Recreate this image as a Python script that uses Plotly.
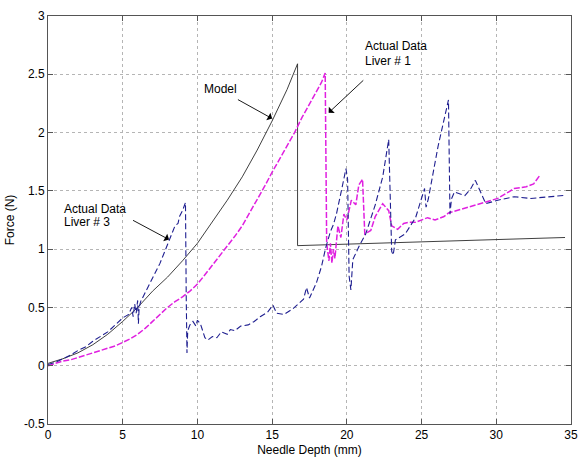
import plotly.graph_objects as go

# Model curve (black)
model_x = [0, 1, 2, 3, 4, 5, 6, 7, 8, 9, 10, 11, 12, 13, 14, 15, 16, 16.7, 16.7, 34.6]
model_y = [0.02, 0.06, 0.11, 0.18, 0.27, 0.38, 0.50, 0.64, 0.76, 0.90, 1.05, 1.23, 1.42, 1.62,
           1.85, 2.10, 2.37, 2.59, 1.03, 1.10]

# Actual Data Liver # 3 (blue)
liver3_x = [0, 0.5, 1, 1.5, 2, 2.5, 3, 3.5, 4, 4.5, 5, 5.4, 5.6, 5.7, 5.8, 5.9, 6.0, 6.05, 6.1,
            6.2, 6.4, 6.6, 7.0, 7.5, 8.0, 8.5, 8.7, 8.8, 9.0, 9.2, 9.25, 9.3, 9.35, 9.5, 9.7,
            9.9, 10.0, 10.2, 10.5, 10.7, 11.0, 11.3, 11.6, 12.0, 12.2, 12.5, 12.9, 13.4, 13.8,
            14.2, 14.7, 15.05, 15.3, 15.8, 16.4, 17.1, 17.3, 17.5, 17.96, 18.3, 18.6, 18.9,
            19.1, 19.3, 19.6, 19.94, 20.05, 20.15, 20.27, 20.4, 20.8, 21.26, 21.9, 22.4, 22.8,
            23.0, 23.1, 23.25, 23.9, 24.6, 25.2, 25.3, 25.45, 26.1, 26.8, 26.9, 27.0, 27.2,
            27.9, 28.3, 28.6, 29.3, 30.1, 31.2, 32.3, 33.4, 34.5]
liver3_y = [0.01, 0.03, 0.06, 0.09, 0.13, 0.16, 0.21, 0.25, 0.29, 0.35, 0.41, 0.44, 0.50, 0.42,
            0.53, 0.45, 0.56, 0.36, 0.50, 0.55, 0.60, 0.65, 0.75, 0.88, 1.04, 1.20, 1.22, 1.28,
            1.33, 1.40, 0.60, 0.11, 0.30, 0.35, 0.38, 0.34, 0.39, 0.36, 0.24, 0.22, 0.25, 0.24,
            0.29, 0.27, 0.31, 0.30, 0.34, 0.35, 0.38, 0.42, 0.46, 0.52, 0.45, 0.44, 0.49, 0.57,
            0.67, 0.58, 0.71, 0.85, 1.02, 1.15, 1.21, 1.30, 1.48, 1.69, 1.60, 0.77, 0.65, 0.91,
            1.02, 1.13, 1.38, 1.62, 1.94, 0.98, 0.95, 1.08, 1.13, 1.27, 1.52, 1.36, 1.43, 1.88,
            2.28, 1.30, 1.43, 1.49, 1.46, 1.52, 1.59, 1.39, 1.42, 1.45, 1.435, 1.45, 1.46]

# Actual Data Liver # 1 (magenta)
liver1_x = [0, 0.5, 1, 1.5, 2, 2.5, 3, 3.5, 4, 4.5, 5, 5.5, 6, 6.5, 7, 7.5, 8, 8.5, 9, 9.5, 10,
            10.5, 11, 11.5, 12, 12.5, 13, 13.5, 14, 14.5, 15, 15.5, 16, 16.5, 17, 17.5, 18, 18.3,
            18.55, 18.6, 18.65, 18.8, 18.9, 19.0, 19.1, 19.2, 19.4, 19.6, 19.8, 20.0, 20.3, 20.6,
            20.8, 21.05, 21.2, 21.6, 21.9, 22.4, 22.8, 23.0, 23.4, 23.8, 24.1, 24.6, 25.4, 25.9,
            26.5, 26.8, 27.9, 29.0, 30.1, 31.2, 32.0, 32.5, 32.9]
liver1_y = [0.0, 0.02, 0.04, 0.05, 0.07, 0.09, 0.11, 0.13, 0.15, 0.17, 0.20, 0.23, 0.27, 0.32,
            0.38, 0.44, 0.50, 0.55, 0.59, 0.64, 0.70, 0.78, 0.86, 0.95, 1.03, 1.11, 1.20, 1.31,
            1.42, 1.54, 1.66, 1.77, 1.88, 2.00, 2.13, 2.25, 2.37, 2.43, 2.51, 1.6, 1.05, 0.90,
            1.05, 0.88, 1.00, 0.92, 1.20, 1.10, 1.30, 1.25, 1.42, 1.38, 1.55, 1.60, 1.13, 1.16,
            1.28, 1.39, 1.33, 1.20, 1.17, 1.22, 1.23, 1.23, 1.27, 1.25, 1.28, 1.31, 1.35, 1.39,
            1.435, 1.52, 1.535, 1.56, 1.63]

x_ticks = [0, 5, 10, 15, 20, 25, 30, 35]
y_ticks = [-0.5, 0, 0.5, 1, 1.5, 2, 2.5, 3]

FONT = "Liberation Sans, Arial, sans-serif"

fig = go.Figure()
fig.add_trace(go.Scatter(x=model_x, y=model_y, mode="lines",
                         line=dict(color="#2a2a2a", width=0.9), showlegend=False))
fig.add_trace(go.Scatter(x=liver1_x, y=liver1_y, mode="lines",
                         line=dict(color="#e020e0", width=1.5, dash="6px,2px"), showlegend=False))
fig.add_trace(go.Scatter(x=liver3_x, y=liver3_y, mode="lines",
                         line=dict(color="#1f1f90", width=1.1, dash="6px,3px"), showlegend=False))

axis_common = dict(
    showline=True, linecolor="#555555", linewidth=1, mirror="ticks",
    ticks="inside", ticklen=5, tickcolor="#555555",
    showgrid=True, gridcolor="#b5b5b5", gridwidth=1, griddash="dot",
    zeroline=False, tickfont=dict(family=FONT, size=12, color="#000"),
)

fig.update_xaxes(range=[0, 35], tickvals=x_ticks, ticktext=[str(v) for v in x_ticks],
                 title=dict(text="Needle Depth (mm)", font=dict(family=FONT, size=12, color="#000"),
                            standoff=4),
                 **axis_common)
fig.update_yaxes(range=[-0.5, 3], tickvals=y_ticks, ticktext=[f"{v:g}" for v in y_ticks],
                 title=dict(text="Force (N)", font=dict(family=FONT, size=12, color="#000"),
                            standoff=6),
                 **axis_common)

ann_font = dict(family=FONT, size=12, color="#000")
arrow_common = dict(xref="x", yref="y", axref="x", ayref="y", showarrow=True, text="",
                    arrowhead=1, arrowsize=1.6, arrowwidth=0.9, arrowcolor="#000")


def label(x, y, text):
    return dict(x=x, y=y, text=text, showarrow=False, font=ann_font,
                xanchor="left", yanchor="middle", align="left")


fig.update_layout(
    width=587, height=464,
    margin=dict(l=48, r=9, t=13, b=32),
    paper_bgcolor="white", plot_bgcolor="white",
    font=dict(family=FONT, size=12, color="#000"),
    annotations=[
        dict(x=11.52, y=2.37, text="Model", showarrow=False, font=ann_font,
             xanchor="center", yanchor="middle"),
        label(21.07, 2.74, "Actual Data"),
        label(21.07, 2.615, "Liver # 1"),
        label(0.97, 1.346, "Actual Data"),
        label(0.97, 1.232, "Liver # 3"),
        dict(x=15.0, y=2.12, ax=12.61, ay=2.29, **arrow_common),
        dict(x=18.78, y=2.17, ax=21.2, ay=2.46, **arrow_common),
        dict(x=8.1, y=1.082, ax=5.59, ay=1.254, **arrow_common),
    ],
)

fig.write_html("out.html")
